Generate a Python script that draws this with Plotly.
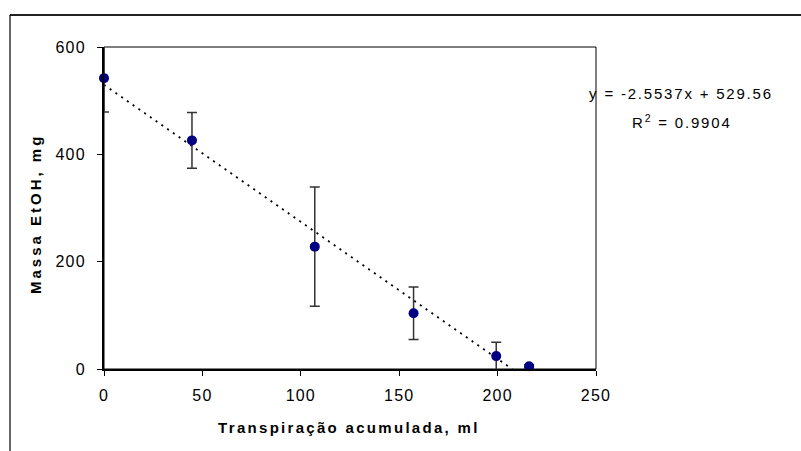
import plotly.graph_objects as go

# ---- data ----
transp_ml = [0, 44.7, 107.1, 157.3, 199.3, 216.0]
massa_mg = [542, 426, 228, 104, 24, 5]
erro_mg = [63, 52, 111, 49, 26, 3]

trend_x = [0, 207.4]
trend_y = [529.56, 0]

x_ticks = [0, 50, 100, 150, 200, 250]
y_ticks = [0, 200, 400, 600]

eq_text = "y = -2.5537x + 529.56"
r2_text = "R<sup>2</sup> = 0.9904"
x_title = "Transpiração acumulada, ml"
y_title = "Massa EtOH, mg"

# ---- layout geometry (pixels) ----
W, H = 801, 451
L, R, T, B = 104, 596, 47, 369
pw, ph = R - L, B - T


def px(x):
    return (x - L) / pw


def py(y):
    return (B - y) / ph


FONT = "Liberation Sans, Arial, sans-serif"

fig = go.Figure()

fig.add_trace(go.Scatter(
    x=trend_x, y=trend_y, mode="lines",
    line=dict(color="black", width=1.8, dash="2px,5px"),
    hoverinfo="skip", showlegend=False,
))

fig.add_trace(go.Scatter(
    x=transp_ml, y=massa_mg, mode="markers",
    marker=dict(color="#000080", size=10, line=dict(width=0)),
    error_y=dict(type="data", array=erro_mg, visible=True,
                 color="#333333", thickness=1.5, width=5),
    cliponaxis=False, showlegend=False,
))

axis_common = dict(
    showgrid=False, zeroline=False, showline=True, linecolor="black",
    linewidth=2, ticks="outside", ticklen=5, tickwidth=1, tickcolor="black",
    tickfont=dict(family=FONT, size=16, color="black"),
)

fig.update_xaxes(range=[0, 250], tickvals=x_ticks, ticklabelstandoff=6,
                 **axis_common)
fig.update_yaxes(range=[0, 600], tickvals=y_ticks, ticklabelstandoff=8,
                 **axis_common)

shapes = [
    # plot-area border (top & right thin)
    dict(type="rect", xref="paper", yref="paper", x0=0, y0=0, x1=1, y1=1,
         line=dict(color="black", width=1), layer="below"),
    # outer chart frame: top and left edges
    dict(type="line", xref="paper", yref="paper",
         x0=px(10), x1=px(W + 5), y0=py(15), y1=py(15),
         line=dict(color="#222222", width=2)),
    dict(type="line", xref="paper", yref="paper",
         x0=px(10), x1=px(10), y0=py(15), y1=py(H + 5),
         line=dict(color="black", width=1.2)),
]

annotations = [
    dict(text=eq_text, xref="paper", yref="paper", x=px(681), y=py(93),
         xanchor="center", yanchor="middle", showarrow=False,
         font=dict(family=FONT, size=15, color="black")),
    dict(text=r2_text, xref="paper", yref="paper", x=px(682), y=py(121),
         xanchor="center", yanchor="middle", showarrow=False,
         font=dict(family=FONT, size=15, color="black")),
    dict(text="<b>" + x_title + "</b>", xref="paper", yref="paper",
         x=px(349), y=py(427), xanchor="center", yanchor="middle",
         showarrow=False, name="xt",
         font=dict(family=FONT, size=15, color="black")),
    dict(text="<b>" + y_title + "</b>", xref="paper", yref="paper",
         x=px(36), y=py(214), xanchor="center", yanchor="middle",
         textangle=-90, showarrow=False, name="yt",
         font=dict(family=FONT, size=15, color="black")),
]

fig.update_layout(
    width=W, height=H,
    margin=dict(l=L, r=W - R, t=T, b=H - B, pad=0),
    paper_bgcolor="white", plot_bgcolor="white",
    shapes=shapes, annotations=annotations,
    font=dict(family=FONT, color="black"),
)

post = """
document.body.style.margin = '0';
var anns = document.querySelectorAll('.main-svg .annotation');
anns.forEach(function(a, i){
  var sp = '1.8px';
  if (i === 2) sp = '2.3px';
  if (i === 3) sp = '3px';
  a.querySelectorAll('text').forEach(function(t){ t.style.letterSpacing = sp; });
});
document.querySelectorAll('.main-svg .xtick text, .main-svg .ytick text').forEach(function(t){
  t.style.letterSpacing = '1.2px';
});
"""

fig.write_html("out.html", post_script=post, config={"displayModeBar": False})
